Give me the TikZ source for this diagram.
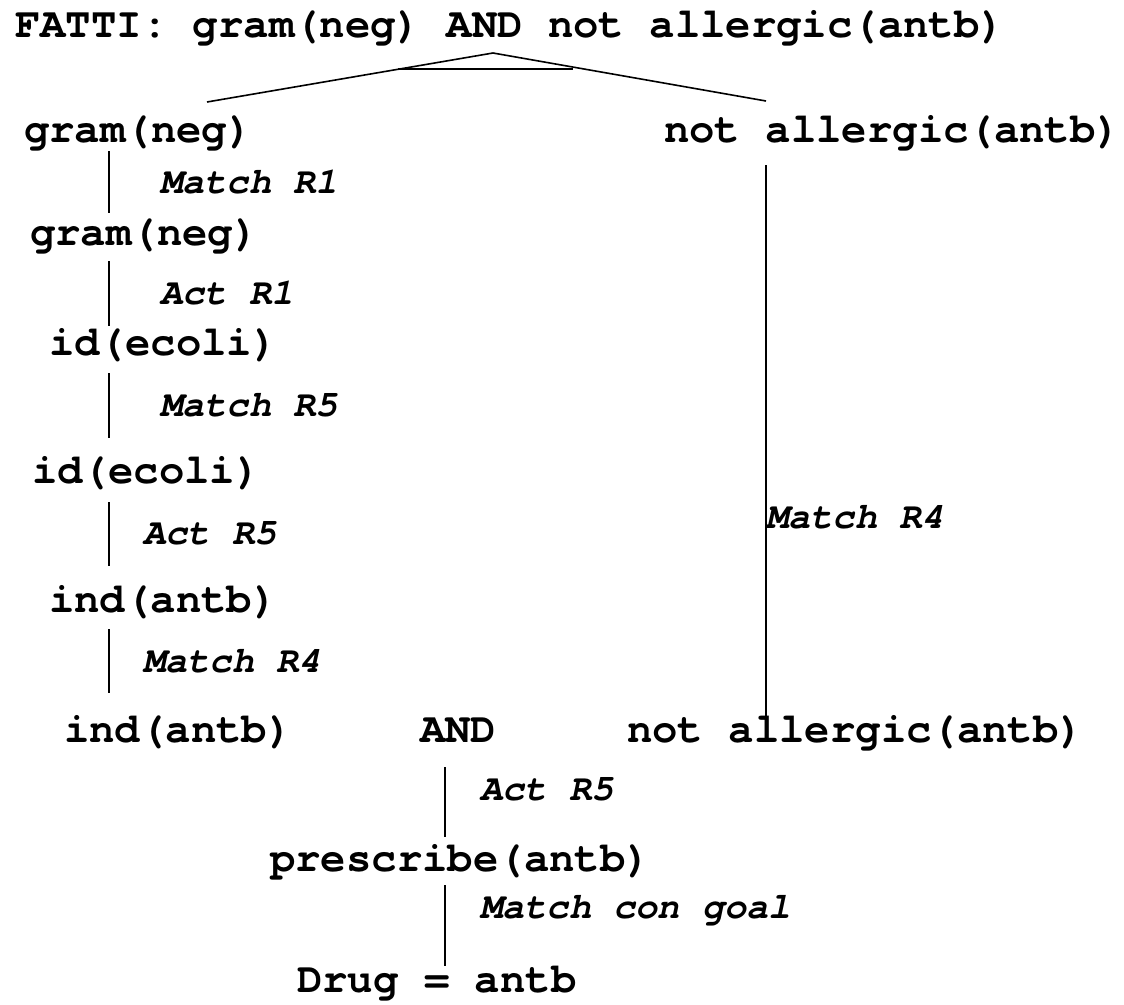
\documentclass[tikz,border=0pt]{standalone}
\usepackage{fontspec}
\usepackage{tikz}
\newfontfamily\factfont{texgyrecursor-bold.otf}
\newfontfamily\rulefont{texgyrecursor-bolditalic.otf}

\tikzset{
  fact/.style={anchor=base west, inner sep=0pt, font=\factfont\fontsize{42.3}{48}\selectfont},
  rulelbl/.style={anchor=base west, inner sep=0pt, font=\rulefont\fontsize{37}{44}\selectfont},
  link/.style={line width=2.9pt},
  branch/.style={line width=1.6pt}
}

\begin{document}
\begin{tikzpicture}[x=1pt,y=-1pt]
\useasboundingbox (0,0) rectangle (1124,1004);

% Text Node
\node [fact] (fatti) at (15,37) {FATTI: gram(neg) AND not allergic(antb)};
\node [fact] (g1) at (24,142) {gram(neg)};
\node [fact] (na1) at (664,142) {not allergic(antb)};
\node [fact] (g2) at (30,245) {gram(neg)};
\node [fact] (id1) at (49,355) {id(ecoli)};
\node [fact] (id2) at (32,483) {id(ecoli)};
\node [fact] (ind1) at (49,612) {ind(antb)};
\node [fact] (ind2) at (64,742) {ind(antb)};
\node [fact] (and) at (420,742) {AND};
\node [fact] (na2) at (627,742) {not allergic(antb)};
\node [fact] (presc) at (270,871) {prescribe(antb)};
\node [fact] (drug) at (297,992) {Drug = antb};

% Rule labels
\node [rulelbl] (m1) at (160,193) {Match R1};
\node [rulelbl] (a1) at (160,304) {Act R1};
\node [rulelbl] (m5) at (160,416) {Match R5};
\node [rulelbl] (a5) at (143,544) {Act R5};
\node [rulelbl] (m4) at (143,672) {Match R4};
\node [rulelbl] (m4r) at (766,528) {Match R4};
\node [rulelbl] (a5b) at (480,800) {Act R5};
\node [rulelbl] (goal) at (480,918) {Match con goal};

%Shape: AND split
\coordinate (apex) at (493,53);
\coordinate (sl) at (207,102);
\coordinate (sr) at (766,101);
\coordinate (bl) at (398,69);
\coordinate (br) at (573,69);
\draw [branch] (sl) -- (apex) -- (sr);
\draw [line width=2.6pt] (bl) -- (br);

%Straight Lines
\coordinate (l1a) at (109,151);  \coordinate (l1b) at (109,213);
\coordinate (l2a) at (109,261);  \coordinate (l2b) at (109,326);
\coordinate (l3a) at (109,373);  \coordinate (l3b) at (109,438);
\coordinate (l4a) at (109,502);  \coordinate (l4b) at (109,566);
\coordinate (l5a) at (109,629);  \coordinate (l5b) at (109,693);
\coordinate (r1a) at (766,165);  \coordinate (r1b) at (766,717);
\coordinate (c1a) at (445,767);  \coordinate (c1b) at (445,837);
\coordinate (c2a) at (445,885);  \coordinate (c2b) at (445,966);
\foreach \s in {l1,l2,l3,l4,l5,r1,c1,c2}
  \draw [link] (\s a) -- (\s b);

\end{tikzpicture}
\end{document}
